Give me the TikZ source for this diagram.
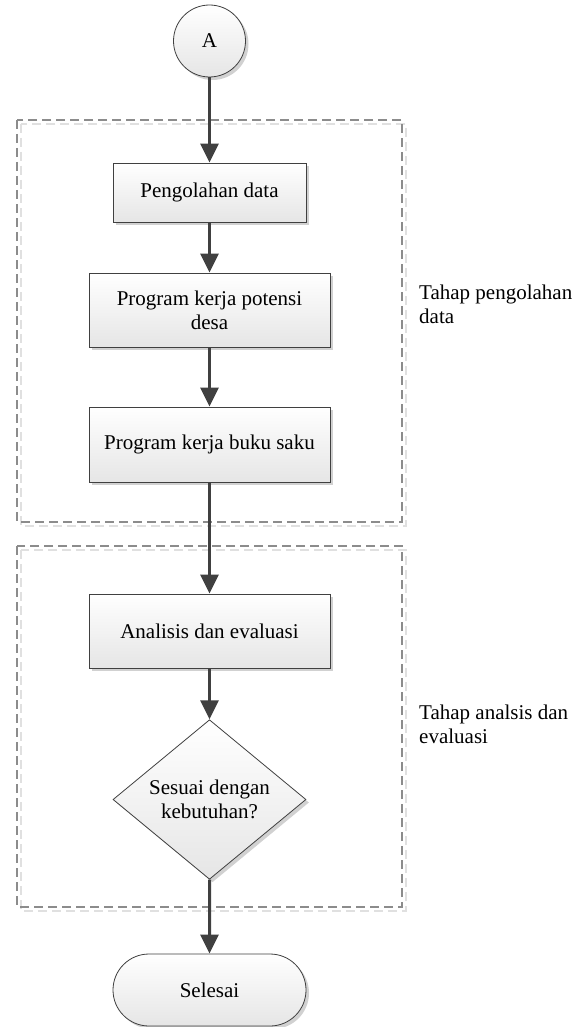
\documentclass[tikz,border=0pt]{standalone}
\usepackage{fontspec}
\setmainfont{Liberation Serif}
\usetikzlibrary{arrows.meta,shapes.geometric,shapes.misc,shadows}
\definecolor{linec}{HTML}{404040}
\definecolor{framec}{HTML}{8C8C8C}
\begin{document}
\begin{tikzpicture}[x=1pt,y=-1pt,
  every node/.style={font=\fontsize{21}{24}\selectfont},
  proc/.style={draw=linec, line width=0.8pt, top color=white, bottom color=black!10,
    drop shadow={shadow xshift=3pt,shadow yshift=-3pt,opacity=0.18,fill=black},
    align=center, inner sep=0pt},
  conn/.style={draw=linec, line width=3pt, -{Triangle[length=19pt,width=18pt]}},
  frame/.style={draw=framec, line width=1.2pt, dash pattern=on 9pt off 5pt},
  frameshadow/.style={draw=black!12, line width=1.2pt, dash pattern=on 9pt off 5pt},
  lbl/.style={align=left, anchor=north west, inner sep=0pt}
]
\useasboundingbox (0,0) rectangle (588,1027);
\fill[white] (0,0) rectangle (588,1027);
% dashed frames
\draw[frameshadow] (21,124) rectangle (406,526);
\draw[frame] (17,120) rectangle (402,522);
\draw[frameshadow] (21,550) rectangle (406,911);
\draw[frame] (17,546) rectangle (402,907);
% nodes
\node[proc, circle, minimum size=72pt] (A) at (209.5,41) {A};
\node[proc, minimum width=193pt, minimum height=59pt] (b1) at (209.5,192.5) {Pengolahan data};
\node[proc, minimum width=241pt, minimum height=74pt] (b2) at (209.5,310) {Program kerja potensi\\desa};
\node[proc, minimum width=241pt, minimum height=75pt] (b3) at (209.5,444.5) {Program kerja buku saku};
\node[proc, minimum width=241pt, minimum height=74pt] (b4) at (209.5,631) {Analisis dan evaluasi};
\node[proc, diamond, minimum width=193pt, minimum height=143pt] (d) at (209.5,799.5) {Sesuai dengan\\kebutuhan?};
\node[proc, rounded rectangle, minimum width=193pt, minimum height=72pt] (e) at (209.5,990) {Selesai};
% labels
\node[lbl] (l1) at (419,284.5) {Tahap pengolahan\\data};
\node[lbl] (l2) at (419,705) {Tahap analsis dan\\evaluasi};
% connectors
\draw[conn] (A) -- (b1);
\draw[conn] (b1) -- (b2);
\draw[conn] (b2) -- (b3);
\draw[conn] (b3) -- (b4);
\draw[conn] (b4) -- (d);
\draw[conn] (d) -- (e);
\end{tikzpicture}
\end{document}
